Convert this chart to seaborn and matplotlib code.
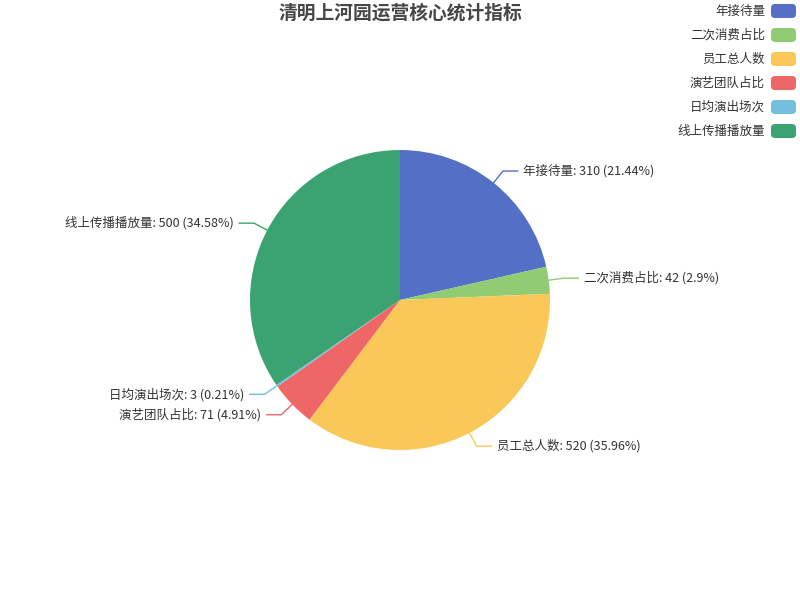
import numpy as np
import matplotlib
matplotlib.use("Agg")
import matplotlib.pyplot as plt
import seaborn as sns
from matplotlib.patches import FancyBboxPatch

# data
names = ["年接待量", "二次消费占比", "员工总人数", "演艺团队占比", "日均演出场次", "线上传播播放量"]
values = [310, 42, 520, 71, 3, 500]
colors = ["#5470c6", "#91cc75", "#fac858", "#ee6666", "#73c0de", "#3ba272"]
title = "清明上河园运营核心统计指标"

sns.set_theme(style="white")
plt.rcParams["font.family"] = ["Noto Sans CJK SC", "DejaVu Sans"]

fig = plt.figure(figsize=(8, 6), dpi=100)
ax = fig.add_axes([0, 0, 1, 1])
ax.set_xlim(-400, 400)
ax.set_ylim(-300, 300)
ax.set_aspect("equal")
ax.axis("off")

R = 150
wedges, _ = ax.pie(values, colors=sns.color_palette(colors), radius=R, center=(0, 0),
                   startangle=90, counterclock=False, frame=True,
                   wedgeprops=dict(linewidth=0))
ax.set_xlim(-400, 400)
ax.set_ylim(-300, 300)
ax.axis("off")

total = sum(values)
for w, name, v, c in zip(wedges, names, values, colors):
    ang = np.deg2rad((w.theta1 + w.theta2) / 2)
    x0, y0 = R * np.cos(ang), R * np.sin(ang)
    x1, y1 = (R + 15) * np.cos(ang), (R + 15) * np.sin(ang)
    side = 1 if x1 >= 0 else -1
    x2 = x1 + side * 15
    ax.plot([x0, x1, x2], [y0, y1, y1], color=c, lw=1)
    pct = f"{round(v / total * 100, 2):g}"
    ax.text(x2 + side * 5, y1, f"{name}: {v} ({pct}%)", fontsize=9, color="#333333",
            ha="left" if side > 0 else "right", va="center")

fig.text(0.5, 1 - 13 / 600, title, ha="center", va="center", fontsize=13.5,
         fontweight="bold", color="#464646")

# legend, top right
for i, (name, c) in enumerate(zip(names, colors)):
    yc = 11 + 24 * i
    box = FancyBboxPatch((771, 600 - yc - 7), 25, 14, boxstyle="round,pad=0,rounding_size=4",
                         transform=None, facecolor=c, edgecolor="none")
    fig.patches.append(box)
    fig.text(765 / 800, 1 - yc / 600, name, ha="right", va="center", fontsize=9, color="#333333")

fig.savefig("out.png", dpi=100)
